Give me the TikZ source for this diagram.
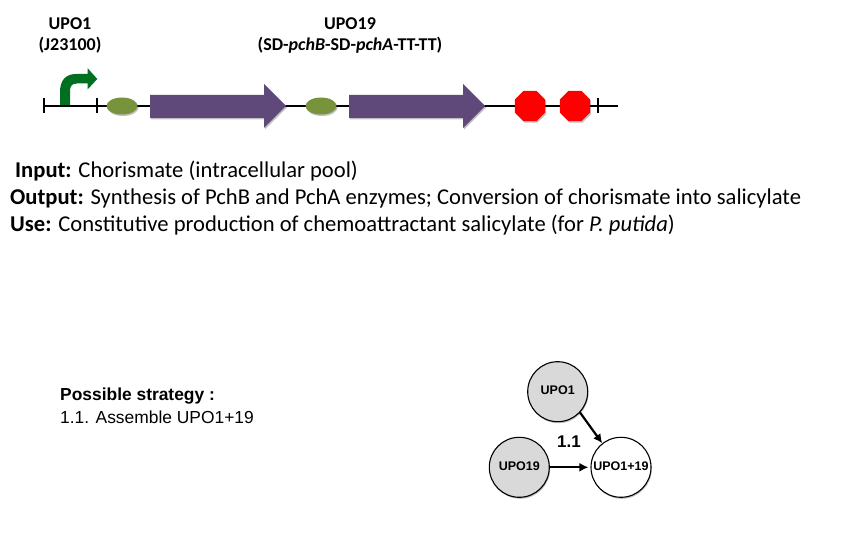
\documentclass[tikz,border=0pt]{standalone}
\usepackage{fontspec}
\setmainfont{Carlito}
\newfontfamily\arialf{Liberation Sans}
\usetikzlibrary{shapes.geometric,shapes.arrows,arrows.meta,shadows}
\definecolor{gene}{RGB}{95,73,122}
\definecolor{rbs}{RGB}{119,147,60}
\definecolor{prom}{RGB}{0,112,32}
\definecolor{circfill}{RGB}{217,217,217}
\tikzset{
 x=1pt,y=-1pt,
 softshadow/.style={drop shadow={shadow xshift=1pt,shadow yshift=-1.5pt,fill=black,opacity=.25}},
 backbone/.style={line width=1.7pt,black},
 tickmark/.style={line width=1.5pt,black},
 rbsnode/.style={ellipse,fill=rbs,minimum width=31pt,minimum height=17pt,inner sep=0pt,softshadow},
 termnode/.style={regular polygon,regular polygon sides=8,fill=red,minimum size=33pt,inner sep=0pt,softshadow},
 genearrow/.style={fill=gene,softshadow},
 head/.style={font=\fontsize{18}{21}\selectfont\bfseries,anchor=base,inner sep=0pt},
 desc/.style={font=\fontsize{22.6}{26}\selectfont,anchor=base west,inner sep=0pt},
 strat/.style={font=\arialf\fontsize{17.4}{20}\selectfont,anchor=base west,inner sep=0pt},
 partcirc/.style={circle,draw=black,line width=1.1pt,minimum size=60pt,inner sep=0pt,font=\arialf\bfseries\fontsize{12.5}{14}\selectfont,drop shadow={shadow xshift=.8pt,shadow yshift=-1.5pt,fill=black,opacity=.25}},
 link/.style={line width=2.2pt,-{Latex[length=9pt,width=9pt]}}
}
\begin{document}
\begin{tikzpicture}
\useasboundingbox (0,0) rectangle (844,545);
\fill[white] (0,0) rectangle (844,545);
% backbone
\coordinate (bbL) at (43,106);
\coordinate (bbR) at (618,106);
\draw[backbone] (bbL) -- (bbR);
\draw[tickmark] (44,98) -- (44,113.5);
\draw[tickmark] (97,98) -- (97,113.5);
\draw[tickmark] (598,98) -- (598,113.5);
% promoter
\fill[prom] (60,105) -- (60,92) .. controls (60,80) and (66,74) .. (76,74) -- (87.7,74) -- (87.7,68.3) -- (97.3,79) -- (87.7,89.3) -- (87.7,83.5) -- (77,83.5) .. controls (72,83.5) and (70,86) .. (70,91) -- (70,105) -- cycle;
% rbs
\node[rbsnode] (r1) at (122,106) {};
\node[rbsnode] (r2) at (321,106) {};
% genes
\path[genearrow] (150,95) -- (264,95) -- (264,84) -- (286,106) -- (264,128) -- (264,118) -- (150,118) -- cycle;
\path[genearrow] (349,95) -- (463,95) -- (463,84) -- (485,106) -- (463,128) -- (463,118) -- (349,118) -- cycle;
% terminators
\node[termnode] (t1) at (530,106) {};
\node[termnode] (t2) at (575,106) {};
% headings
\node[head] (h1) at (70,30) {UPO1};
\node[head] (h2) at (70,51) {(J23100)};
\node[head] (h3) at (350,30) {UPO19};
\node[head] (h4) at (350,51) {(SD-\textit{pchB}-SD-\textit{pchA}-TT-TT)};
% description
\node[desc] (d1) at (15,177.5) {\textbf{Input:} Chorismate (intracellular pool)};
\node[desc] (d2) at (10,204.5) {\textbf{Output:} Synthesis of PchB and PchA enzymes; Conversion of chorismate into salicylate};
\node[desc] (d3) at (10,232) {\textbf{Use:} Constitutive production of chemoattractant salicylate (for \textit{P. putida})};
% strategy
\node[strat] (s1) at (60,401) {\textbf{Possible strategy :}};
\node[strat] (s2) at (60,424) {1.1. Assemble UPO1+19};
% graph
\node[partcirc,fill=circfill] (n1) at (557.7,391.7) {\raisebox{3pt}{UPO1}\hspace{6pt}};
\node[partcirc,fill=circfill] (n2) at (519.3,467.3) {\raisebox{1.5pt}{UPO19}};
\node[partcirc,fill=white] (n3) at (621,467.3) {\raisebox{1.5pt}{UPO1+19}};
\draw[link] (n1.-43) -- (n3.128);
\draw[link,shorten >=2pt] (n2) -- (n3) ;
\node[font=\arialf\bfseries\fontsize{17}{19}\selectfont] (l) at (569,442) {1.1};
\end{tikzpicture}
\end{document}
